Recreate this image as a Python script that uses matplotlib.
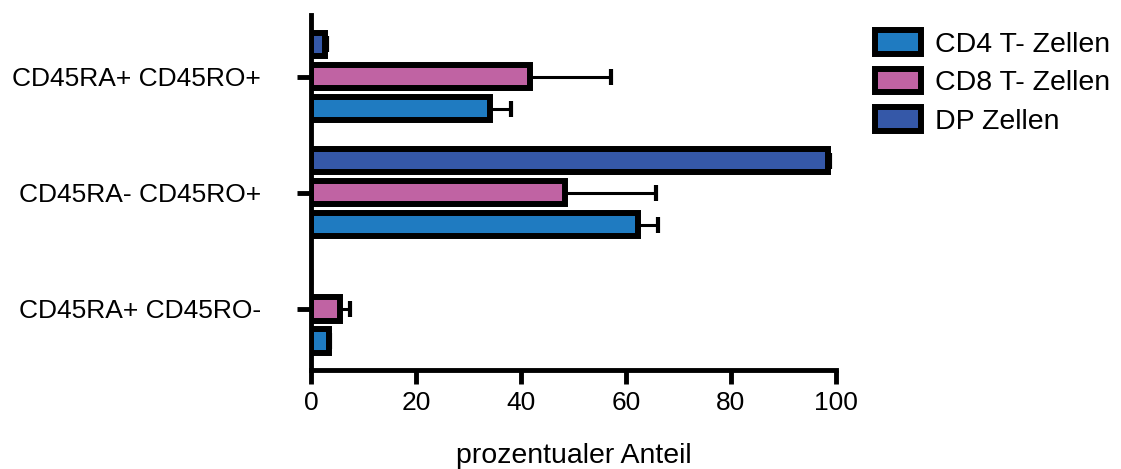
import numpy as np
import matplotlib.pyplot as plt
from matplotlib.patches import Patch

plt.rcParams['font.family'] = ['Liberation Sans', 'DejaVu Sans']

# Daten (Mittelwert und Fehler)
kategorien = ['CD45RA+ CD45RO-', 'CD45RA- CD45RO+', 'CD45RA+ CD45RO+']
cd4 = [3.4, 62.3, 34.1]
cd4_err = [0.3, 3.8, 4.0]
cd8 = [5.5, 48.4, 41.7]
cd8_err = [1.9, 17.3, 15.4]
dp = [0.0, 98.4, 2.7]
dp_err = [0.0, 0.4, 0.3]
serien = ['CD4 T- Zellen', 'CD8 T- Zellen', 'DP Zellen']
farben = ['#1f7bc1', '#c063a3', '#3558a8']

fig = plt.figure(figsize=(11.21, 4.69), dpi=100)
ax = fig.add_axes([0.2774, 0.2111, 0.4683, 0.757])

y = np.arange(len(kategorien))
abstand = 0.276
hoehe = 0.2

for werte, fehler, off, farbe in [(cd4, cd4_err, -abstand, farben[0]),
                                  (cd8, cd8_err, 0, farben[1]),
                                  (dp, dp_err, abstand, farben[2])]:
    pos = y + off
    ax.errorbar(werte, pos, xerr=[np.zeros(len(werte)), fehler], fmt='none',
                ecolor='black', elinewidth=2.2, capsize=6, capthick=3, zorder=1)
    for p, w in zip(pos, werte):
        if w > 0:
            ax.barh(p, w, height=hoehe, color=farbe, edgecolor='black',
                    linewidth=4.3, zorder=2)

ax.set_xlim(0, 100)
ax.set_ylim(-0.526, 2.53)
ax.set_xticks([0, 20, 40, 60, 80, 100])
ax.set_yticks(y)
ax.set_yticklabels(kategorien)
ax.tick_params(axis='both', labelsize=19, width=3.5, length=10, direction='out')
ax.tick_params(axis='y', pad=26)
ax.tick_params(axis='x', pad=5)

for s in ['top', 'right']:
    ax.spines[s].set_visible(False)
for s in ['left', 'bottom']:
    ax.spines[s].set_linewidth(3.5)

ax.set_xlabel('prozentualer Anteil', fontsize=20.5, labelpad=20)

handles = [Patch(facecolor=f, edgecolor='black', linewidth=4.3) for f in farben]
fig.legend(handles, serien, loc='upper left', bbox_to_anchor=(0.758, 0.99),
           frameon=False, fontsize=20.5, handlelength=1.6, handleheight=0.9,
           labelspacing=0.38, handletextpad=0.5)

fig.savefig('out.png', dpi=100)
